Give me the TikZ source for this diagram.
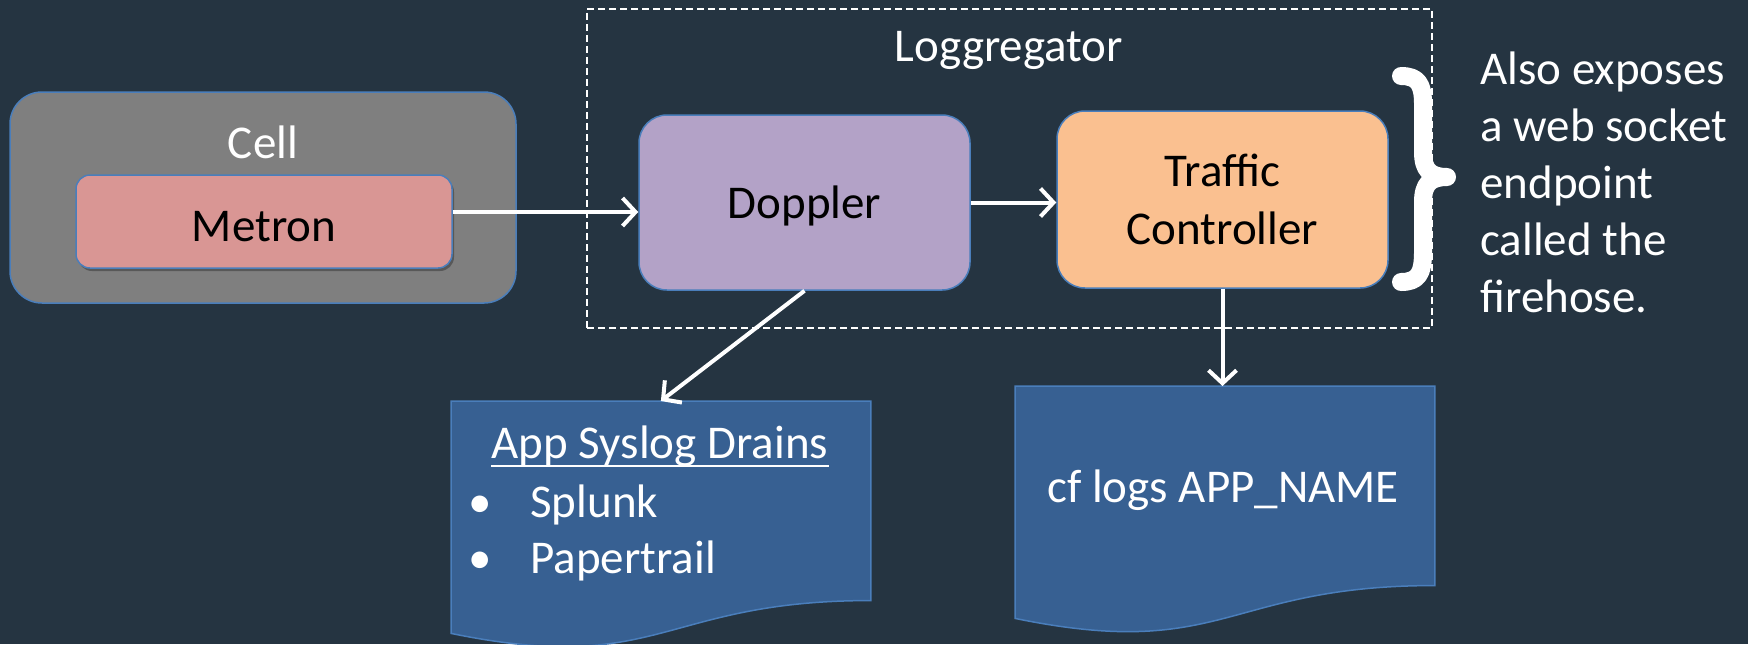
\documentclass[tikz,border=0pt]{standalone}
\usepackage{fontspec}
\setmainfont{Carlito}
\usetikzlibrary{arrows.meta,shadows,calc}
\definecolor{bg}{HTML}{253441}
\definecolor{cellgray}{HTML}{7F7F7F}
\definecolor{edgeblue}{HTML}{4A7EBB}
\definecolor{metronfill}{HTML}{D99694}
\definecolor{dopfill}{HTML}{B3A2C7}
\definecolor{tcfill}{HTML}{FAC090}
\definecolor{docfill}{HTML}{376092}
\tikzset{
  txt/.style={font=\fontsize{23.5}{28.5}\selectfont, inner sep=0pt, text=white},
  cellbox/.style={draw=edgeblue, line width=0.75pt, fill=cellgray, rounded corners=16pt, inner sep=0pt},
  metronbox/.style={draw=edgeblue, line width=0.75pt, fill=metronfill, rounded corners=7pt, inner sep=0pt,
    font=\fontsize{23.5}{28.5}\selectfont, text=black,
    drop shadow={shadow xshift=1pt, shadow yshift=-1.5pt, opacity=0.3, fill=black}},
  procbox/.style={draw=edgeblue, line width=0.75pt, rounded corners=14pt, inner sep=0pt, align=center,
    font=\fontsize{23.5}{29}\selectfont, text=black},
  docarea/.style={inner sep=0pt, anchor=north west, minimum width=209.5pt, minimum height=124pt},
  docshape/.style={fill=docfill, draw=edgeblue, line width=0.75pt},
  arr/.style={draw=white, line width=2pt, -{Straight Barb[length=6.5pt,width=14pt,line width=2pt]}},
  loggbox/.style={draw=white, line width=0.75pt, dash pattern=on 3.3pt off 2.2pt, inner sep=0pt},
}
\begin{document}
\begin{tikzpicture}[x=0.5pt,y=-0.5pt]
\fill[bg] (0,0) rectangle (1748,644);
\useasboundingbox (0,0) rectangle (1748,644);

% Loggregator dashed frame
\node[loggbox, minimum width=422.5pt, minimum height=159.5pt] (logg) at (1009.5,168.5) {};
\node[txt] (logglbl) at (1009,50) {Loggregator};

% Cell
\node[cellbox, minimum width=253pt, minimum height=105.5pt] (cell) at (263,197.5) {};
\node[txt] (celllbl) at (263,142) {Cell};
\node[metronbox, minimum width=188pt, minimum height=46.5pt, text height=20pt, text depth=0pt] (metron) at (264,221.5) {Metron};

% Doppler and Traffic Controller
\node[procbox, fill=dopfill, minimum width=165.5pt, minimum height=87.5pt, text height=19pt, text depth=3pt] (doppler) at (804.5,202.5) {Doppler};
\node[procbox, fill=tcfill, minimum width=165.5pt, minimum height=88.5pt] (tc) at (1222.5,199.5) {Traffic\\Controller};

% Documents
\node[docarea] (syslog) at (451,401) {};
\filldraw[docshape] (syslog.north west) -- (syslog.north east)
  -- ($(syslog.north east)!0.802!(syslog.south east)$)
  .. controls ($(syslog.north)!0.802!(syslog.south)$) and ($(syslog.north)!1.1075!(syslog.south)$)
  .. ($(syslog.north west)!0.934!(syslog.south west)$) -- cycle;
\node[docarea] (cflogs) at (1015,386) {};
\filldraw[docshape] (cflogs.north west) -- (cflogs.north east)
  -- ($(cflogs.north east)!0.802!(cflogs.south east)$)
  .. controls ($(cflogs.north)!0.802!(cflogs.south)$) and ($(cflogs.north)!1.1075!(cflogs.south)$)
  .. ($(cflogs.north west)!0.934!(cflogs.south west)$) -- cycle;

\node[txt, anchor=base] (sltitle) at (660,458) {App Syslog Drains};
\draw[white, line width=1pt] ([yshift=-4pt]sltitle.base west) -- ([yshift=-4pt]sltitle.base east);
\node[txt, anchor=base west] (item1) at (468,517) {\makebox[31pt][l]{•}Splunk};
\node[txt, anchor=base west] (item2) at (468,573) {\makebox[31pt][l]{•}Papertrail};
\node[txt, anchor=base] (cftext) at (1223,502) {cf logs APP\_NAME};

% Arrows
\draw[arr] ([yshift=4.75pt]metron.east) -- ([yshift=4.75pt]metron.east -| doppler.west);
\draw[arr] (doppler.south) -- (syslog.north);
\draw[arr] (doppler.east) -- (doppler.east -| tc.west);
\draw[arr] (tc.south) -- (tc.south |- cflogs.north);

% Brace
\draw[white, line width=9pt, line cap=round, line join=round]
  (1401,76) .. controls (1418,76) and (1423,84) .. (1423,104) -- (1423,152)
  .. controls (1423,170) and (1430,177) .. (1447,177)
  .. controls (1430,177) and (1423,184) .. (1423,202) -- (1423,252)
  .. controls (1423,274) and (1418,282) .. (1401,282);
\node[txt, anchor=base west, align=left] (note) at (1480,312)
  {Also exposes\\a web socket\\endpoint\\called the\\firehose.};
\end{tikzpicture}
\end{document}
